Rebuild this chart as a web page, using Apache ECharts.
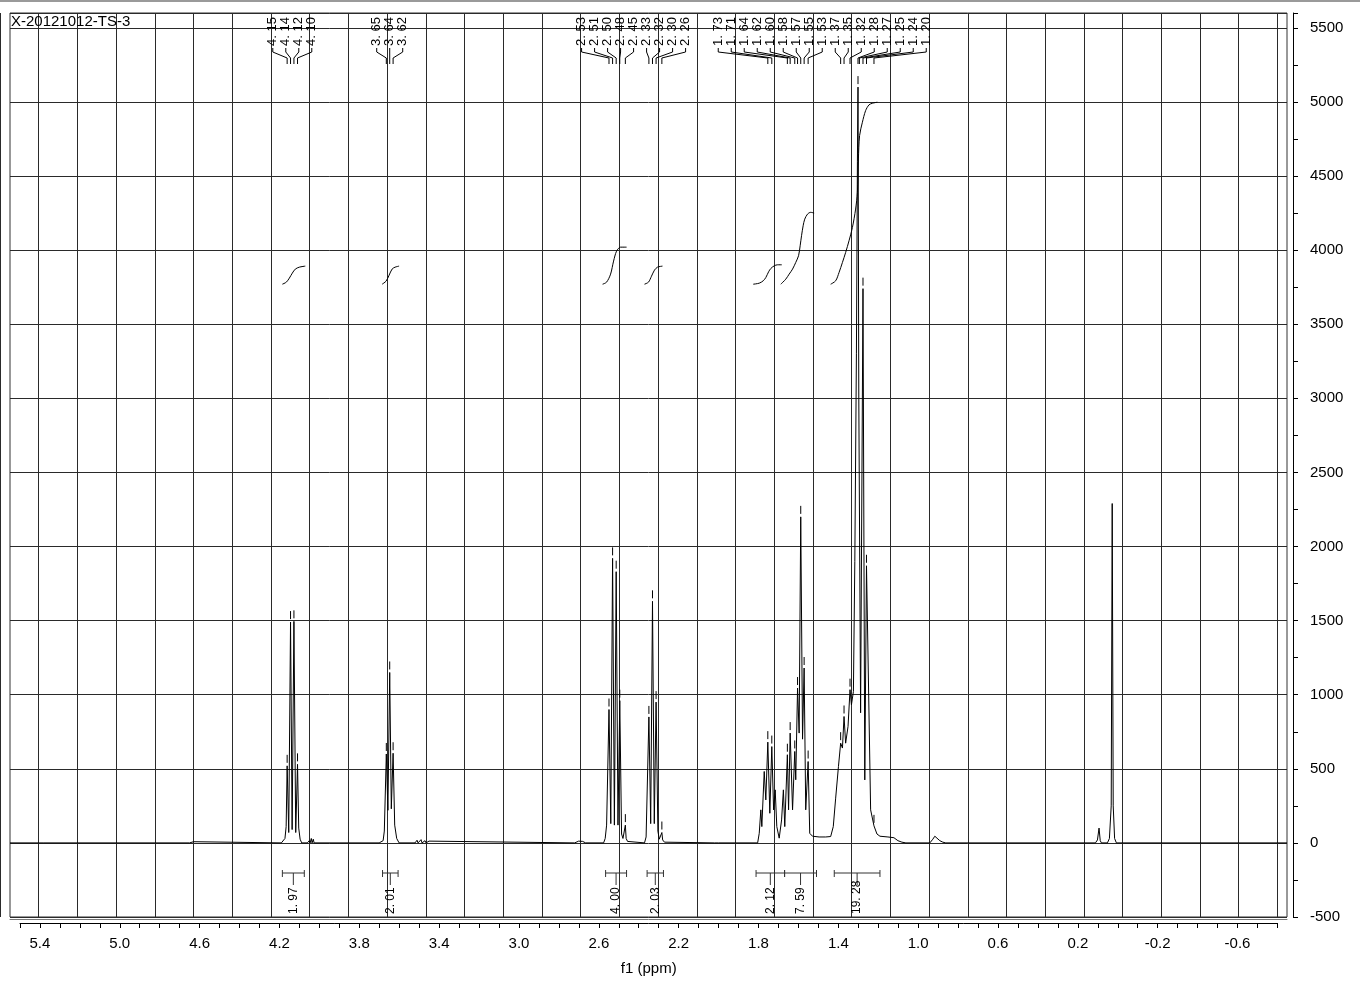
<!DOCTYPE html>
<html>
<head>
<meta charset="utf-8">
<title>X-20121012-TS-3</title>
<script src="https://cdn.jsdelivr.net/npm/echarts@6/dist/echarts.min.js"></script>
<style>
  html, body { margin: 0; padding: 0; background: #fff; }
  #chart { width: 1360px; height: 981px; }
</style>
</head>
<body>
<div id="chart"></div>
<script>
// spectrum, [ppm, intensity], one array per region
const leftBaseline = [[5.55, 0], [5.40, 0], [5.39, 12], [5.38, 0], [4.65, 0], [4.63, 8], [4.62, 0], [4.19, 0]];
const quartet412 = [[4.180, 0], [4.172, 30], [4.166, 110], [4.161, 520], [4.153, 70], [4.144, 1490], [4.136, 90],
    [4.127, 1495], [4.118, 70], [4.109, 530], [4.103, 100], [4.096, 25], [4.088, 0]];
const bumps404 = [[4.060, 0], [4.050, 15], [4.046, 0], [4.040, 30], [4.036, 0], [4.030, 25], [4.026, 0], [3.700, 0]];
const triplet364 = [[3.690, 0], [3.680, 15], [3.674, 80], [3.664, 600], [3.656, 220], [3.647, 1150], [3.639, 230],
    [3.630, 605], [3.622, 120], [3.612, 30], [3.600, 0]];
const bumps350 = [[3.52, 0], [3.51, 18], [3.505, 0], [3.49, 22], [3.485, 0], [3.47, 15], [3.465, 0], [3.45, 12],
    [3.445, 0], [2.72, 0], [2.70, 12], [2.68, 10], [2.665, 0]];
const multiplet252 = [[2.575, 0], [2.567, 30], [2.560, 120], [2.548, 900], [2.539, 130], [2.530, 1920], [2.521, 120],
    [2.512, 1830], [2.503, 120], [2.494, 960], [2.485, 60], [2.478, 30], [2.470, 40], [2.466, 120], [2.462, 30],
    [2.455, 10], [2.445, 0]];
const triplet233 = [[2.370, 0], [2.362, 40], [2.348, 850], [2.339, 130], [2.330, 1630], [2.321, 130], [2.312, 950],
    [2.303, 80], [2.296, 25], [2.287, 20], [2.283, 70], [2.279, 20], [2.270, 5], [2.260, 0], [2.02, 0], [2.01, 10], [2.00, 0]];
const multiplet172 = [[1.803, 0], [1.795, 65], [1.787, 223], [1.782, 110], [1.770, 482], [1.762, 290], [1.752, 680],
    [1.742, 200], [1.732, 650], [1.723, 223], [1.715, 358], [1.707, 110], [1.695, 32], [1.683, 155], [1.674, 358],
    [1.667, 110], [1.654, 595], [1.648, 223], [1.640, 741], [1.628, 223], [1.617, 617], [1.612, 426], [1.603, 1045],
    [1.595, 741], [1.587, 2200], [1.578, 700], [1.570, 1180], [1.562, 223], [1.550, 549], [1.542, 65], [1.528, 45],
    [1.495, 40], [1.462, 40], [1.437, 43]];
const multiplet128 = [[1.424, 110], [1.412, 302], [1.398, 516], [1.387, 673], [1.378, 640], [1.370, 853], [1.362, 673],
    [1.350, 786], [1.340, 1034], [1.333, 932], [1.323, 1022], [1.316, 1900], [1.308, 3300], [1.303, 4600],
    [1.300, 5100], [1.296, 3000], [1.287, 878], [1.275, 3740], [1.266, 425], [1.2575, 1870], [1.2367, 223],
    [1.220, 115], [1.205, 60], [1.19, 45], [1.15, 40], [1.12, 35], [1.10, 15], [1.08, 5], [1.06, 0]];
const rightBaseline = [[0.94, 0], [0.925, 25], [0.915, 45], [0.905, 35], [0.89, 15], [0.875, 5], [0.86, 0],
    [0.11, 0], [0.10, 20], [0.092, 100], [0.086, 15], [0.08, 0], [0.05, 0], [0.04, 30], [0.031, 250],
    [0.026, 2290], [0.021, 250], [0.014, 30], [0.005, 0], [-0.85, 0]];

// peak picking: label text, ppm where the connector lands, apex height (null = no tick)
const pickLabels = ['4. 15', '4. 14', '4. 12', '4. 10', '3. 65', '3. 64', '3. 62',
    '2. 53', '2. 51', '2. 50', '2. 48', '2. 45', '2. 33', '2. 32', '2. 30', '2. 26',
    '1. 73', '1. 71', '1. 64', '1. 62', '1. 60', '1. 58', '1. 57', '1. 55', '1. 53',
    '1. 37', '1. 35', '1. 32', '1. 28', '1. 27', '1. 25', '1. 24', '1. 20'];
const pickPpm = [4.161, 4.144, 4.127, 4.109, 3.664, 3.647, 3.630,
    2.548, 2.530, 2.512, 2.494, 2.466, 2.348, 2.330, 2.312, 2.283,
    1.752, 1.732, 1.654, 1.640, 1.617, 1.603, 1.587, 1.570, 1.550,
    1.387, 1.370, 1.340, 1.300, 1.293, 1.275, 1.2575, 1.220];
const pickHeight = [520, 1490, 1495, 530, 600, 1150, 605,
    900, 1920, 1830, 960, 120, 850, 1630, 950, 70,
    680, 650, 595, 741, 617, 1045, 2200, 1180, 549,
    673, 853, 1034, 5100, null, 3740, 1870, 115];

// integrals
const intFrom = [4.185, 3.683, 2.565, 2.357, 1.811, 1.668, 1.419];
const intTo = [4.075, 3.605, 2.460, 2.275, 1.668, 1.508, 1.190];
const intLabels = ['1. 97', '2. 01', '4. 00', '2. 03', '2. 12', '7. 59', '19. 28'];

// integral curves, [ppm, running integral on the intensity scale]
const integral1 = [[4.185, 3770], [4.165, 3784], [4.150, 3811], [4.135, 3845], [4.120, 3872], [4.100, 3885], [4.070, 3892]];
const integral2 = [[3.685, 3770], [3.665, 3791], [3.650, 3831], [3.635, 3872], [3.620, 3885], [3.600, 3892]];
const integral3 = [[2.580, 3770], [2.560, 3784], [2.540, 3838], [2.525, 3926], [2.510, 3993], [2.490, 4020], [2.460, 4020]];
const integral4 = [[2.370, 3770], [2.350, 3784], [2.335, 3824], [2.320, 3865], [2.305, 3885], [2.280, 3892]];
const integral5 = [[1.825, 3770], [1.795, 3777], [1.775, 3793], [1.762, 3815], [1.748, 3854], [1.737, 3876],
    [1.720, 3894], [1.703, 3901], [1.682, 3901]];
const integral6 = [[1.687, 3770], [1.662, 3804], [1.645, 3838], [1.628, 3872], [1.612, 3917], [1.598, 3962],
    [1.590, 4029], [1.583, 4097], [1.575, 4164], [1.567, 4209], [1.553, 4243], [1.537, 4255], [1.520, 4250]];
const integral7 = [[1.437, 3770], [1.412, 3793], [1.395, 3849], [1.378, 3917], [1.362, 3984], [1.345, 4063],
    [1.328, 4153], [1.312, 4277], [1.303, 4390], [1.298, 4615], [1.292, 4773], [1.278, 4863], [1.262, 4941],
    [1.245, 4980], [1.228, 4991], [1.203, 4998]];

const spectrum = [].concat(leftBaseline, quartet412, bumps404, triplet364, bumps350, multiplet252,
    triplet233, multiplet172, multiplet128, rightBaseline);
const integralCurves = [integral1, integral2, integral3, integral4, integral5, integral6, integral7];

const FONT = '"Liberation Sans", Arial, Helvetica, sans-serif';
const PX_PER_PPM = 199.6;

// spread peak labels so they do not overlap, centred on their peaks
function spreadLabels(xs, gap) {
    let clusters = xs.map(x => ({ sum: x, n: 1, start: x }));
    let merged = true;
    while (merged) {
        merged = false;
        for (let i = 0; i < clusters.length - 1; i++) {
            const a = clusters[i], b = clusters[i + 1];
            if (a.start + a.n * gap > b.start) {
                const sum = a.sum + b.sum, n = a.n + b.n;
                clusters.splice(i, 2, { sum: sum, n: n, start: sum / n - (n - 1) * gap / 2 });
                merged = true;
                break;
            }
        }
    }
    const out = [];
    clusters.forEach(c => { for (let k = 0; k < c.n; k++) out.push(c.start + k * gap); });
    return out;
}

const chart = echarts.init(document.getElementById('chart'), null, { renderer: 'canvas' });

const lineStyle = { stroke: '#000', lineWidth: 1 };

chart.setOption({
    animation: false,
    backgroundColor: '#fff',
    title: {
        text: 'X-20121012-TS-3',
        left: 11, top: 14, padding: 0,
        textStyle: { fontFamily: FONT, fontSize: 15, fontWeight: 'normal', color: '#000' }
    },
    graphic: [{
        type: 'rect', left: 0, top: 0, shape: { width: 1360, height: 2 }, style: { fill: '#9a9a9a' }
    }],
    grid: [
        // data area
        { left: 10, top: 13, width: 1277, height: 904, show: true, borderColor: '#333', borderWidth: 1 },
        // tick axis, 5.5 .. -0.8
        { left: 10 + 0.05 * PX_PER_PPM, top: 13, width: 6.3 * PX_PER_PPM, height: 904 },
        // vertical grid lines, 5.8 .. -0.8
        { left: 10 - 0.25 * PX_PER_PPM, top: 13, width: 6.6 * PX_PER_PPM, height: 904 }
    ],
    xAxis: [
        {
            gridIndex: 0, type: 'value', inverse: true, min: -0.85, max: 5.55,
            position: 'bottom', offset: 2,
            axisLine: { show: true, onZero: false, lineStyle: { color: '#777', width: 1 } },
            axisTick: { show: false }, axisLabel: { show: false }, splitLine: { show: false }
        },
        {
            gridIndex: 1, type: 'value', inverse: true, min: -0.8, max: 5.5, interval: 0.1,
            position: 'bottom', offset: 7,
            name: 'f1 (ppm)', nameLocation: 'middle', nameGap: 38,
            nameTextStyle: { fontFamily: FONT, fontSize: 15, color: '#000' },
            axisLine: { show: true, onZero: false, lineStyle: { color: '#000', width: 1 } },
            axisTick: { show: true, length: 5, lineStyle: { color: '#000' } },
            axisLabel: {
                margin: 13, fontFamily: FONT, fontSize: 15, color: '#000',
                formatter: v => ((Math.round(v * 10) + 6) % 4 === 0 ? v.toFixed(1) : '')
            },
            splitLine: { show: false }
        },
        {
            gridIndex: 2, type: 'value', inverse: true, min: -0.8, max: 5.8, interval: 0.2,
            axisLine: { show: false, onZero: false }, axisTick: { show: false }, axisLabel: { show: false },
            splitLine: { show: true, lineStyle: { color: '#2a2a2a', width: 1 } }
        }
    ],
    yAxis: [
        {
            gridIndex: 0, type: 'value', min: -500, max: 5600, interval: 500,
            position: 'right', offset: 6,
            axisLine: { show: true, onZero: false, lineStyle: { color: '#000', width: 1 } },
            axisTick: { show: true, length: 5, lineStyle: { color: '#000' } },
            minorTick: { show: true, splitNumber: 2, length: 5, lineStyle: { color: '#000' } },
            axisLabel: {
                margin: 17, fontFamily: FONT, fontSize: 15, color: '#000', showMaxLabel: false,
                formatter: v => String(v)
            },
            splitLine: { show: true, lineStyle: { color: '#2a2a2a', width: 1 } }
        },
        { gridIndex: 1, type: 'value', min: 0, max: 1, show: false, axisLine: { onZero: false } },
        { gridIndex: 2, type: 'value', min: 0, max: 1, show: false, axisLine: { onZero: false } }
    ],
    series: [
        {
            name: 'spectrum', type: 'line', xAxisIndex: 0, yAxisIndex: 0,
            data: spectrum, showSymbol: false, symbol: 'none', sampling: null,
            lineStyle: { color: '#000', width: 1 }, z: 5
        },
        ...integralCurves.map((curve, k) => ({
            name: 'integral' + (k + 1), type: 'line', xAxisIndex: 0, yAxisIndex: 0,
            data: curve, showSymbol: false, symbol: 'none', smooth: 0.3,
            lineStyle: { color: '#000', width: 1 }, z: 5
        })),
        {
            // small tick above every picked peak
            name: 'peakTicks', type: 'custom', xAxisIndex: 0, yAxisIndex: 0, z: 6,
            data: pickPpm.map((p, i) => [p, pickHeight[i]]).filter(d => d[1] != null),
            renderItem: (params, api) => {
                const p = api.coord([api.value(0), api.value(1)]);
                return { type: 'line', shape: { x1: p[0], y1: p[1] - 3, x2: p[0], y2: p[1] - 11 }, style: lineStyle };
            }
        },
        {
            // peak labels along the top with connectors
            name: 'peakLabels', type: 'custom', xAxisIndex: 0, yAxisIndex: 0, z: 6,
            data: pickPpm.map(p => [p, 0]),
            renderItem: (params, api) => {
                const i = params.dataIndex;
                const xs = pickPpm.map(p => api.coord([p, 0])[0]);
                const lx = spreadLabels(xs, 13)[i];
                const px = xs[i];
                const top = params.coordSys.y;
                return {
                    type: 'group',
                    children: [
                        {
                            type: 'text', x: lx, y: top + 33, rotation: Math.PI / 2,
                            style: { text: pickLabels[i], font: '13px ' + FONT, fill: '#000', align: 'left', verticalAlign: 'middle' }
                        },
                        {
                            type: 'polyline',
                            shape: { points: [[lx, top + 35], [lx, top + 39], [px, top + 45], [px, top + 51]] },
                            style: { stroke: '#000', fill: null, lineWidth: 1 }
                        }
                    ]
                };
            }
        },
        {
            // integral brackets and values along the bottom
            name: 'integrals', type: 'custom', xAxisIndex: 0, yAxisIndex: 0, z: 6,
            data: intFrom.map((f, i) => [f, intTo[i]]),
            renderItem: (params, api) => {
                const i = params.dataIndex;
                const x1 = api.coord([intFrom[i], 0])[0];
                const x2 = api.coord([intTo[i], 0])[0];
                const cx = (x1 + x2) / 2;
                const bottom = params.coordSys.y + params.coordSys.height;
                const y = bottom - 44;
                const st = { stroke: '#333', lineWidth: 1 };
                return {
                    type: 'group',
                    children: [
                        { type: 'line', shape: { x1: x1, y1: y, x2: x2, y2: y }, style: st },
                        { type: 'line', shape: { x1: x1, y1: y - 3, x2: x1, y2: y + 4 }, style: st },
                        { type: 'line', shape: { x1: x2, y1: y - 3, x2: x2, y2: y + 4 }, style: st },
                        { type: 'line', shape: { x1: cx, y1: y, x2: cx, y2: y + 12 }, style: st },
                        {
                            type: 'text', x: cx, y: bottom - 3, rotation: Math.PI / 2,
                            style: { text: intLabels[i], font: '12px ' + FONT, fill: '#000', align: 'left', verticalAlign: 'middle' }
                        }
                    ]
                };
            }
        }
    ]
});
</script>
</body>
</html>
